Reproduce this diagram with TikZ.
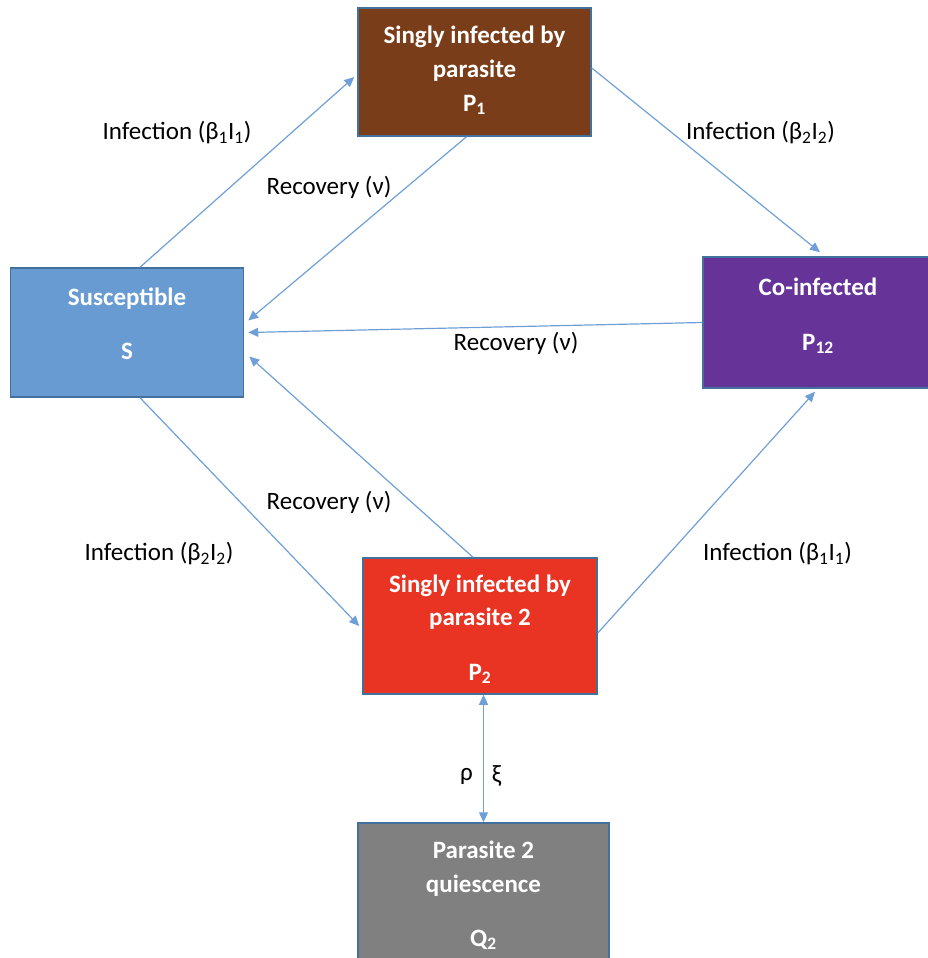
\documentclass[tikz,border=0pt]{standalone}
\usepackage{fontspec}
\setmainfont{Carlito}
\usetikzlibrary{arrows.meta}

\definecolor{sblue}{RGB}{104,155,210}
\definecolor{pbrown}{RGB}{122,61,26}
\definecolor{ppurple}{RGB}{102,51,153}
\definecolor{pred}{RGB}{233,52,36}
\definecolor{qgray}{RGB}{128,128,128}
\definecolor{edgeblue}{RGB}{65,113,156}
\definecolor{arrowblue}{RGB}{110,160,215}

\begin{document}
\begin{tikzpicture}[x=1pt, y=-1pt, node distance=270pt,
		box/.style={draw=edgeblue, line width=1.5pt, text=white, align=center,
			font=\fontsize{25}{33}\selectfont\bfseries, inner sep=0pt, minimum width=233pt},
		lbl/.style={font=\fontsize{25}{30}\selectfont},
		flow/.style={color=arrowblue, line width=1.2pt, -{Triangle[length=10pt, width=9pt]}}]
			\useasboundingbox (0,0) rectangle (928,958);

			\node[box, fill=sblue, text height=91pt, text depth=38pt] (s) at (127,332.5)
				{Susceptible\\[21pt]S};
			\node[box, fill=pbrown, text height=103pt, text depth=25pt] (p1)
				[right of=s, xshift=77.5pt, yshift=260.5pt]
				{Singly infected by\\[1pt]parasite\\[1pt]P\textsubscript{1}};
			\node[box, fill=ppurple, text height=93pt, text depth=38pt, minimum width=230pt] (p12)
				[right of=p1, xshift=73.5pt, yshift=-250.5pt]
				{Co-infected\\[22pt]P\textsubscript{12}};
			\node[box, fill=pred, text height=122pt, text depth=14pt, minimum width=234pt] (p2)
				[below of=p1, xshift=5.5pt, yshift=-284pt]
				{Singly infected by\\[0pt]parasite 2\\[22pt]P\textsubscript{2}};
			\node[box, fill=qgray, text height=123pt, text depth=18pt, minimum width=251pt] (q2)
				[below of=p2, xshift=3.5pt, yshift=2.5pt]
				{Parasite 2\\[1pt]quiescence\\[21pt]Q\textsubscript{2}};

			\node[lbl] (infa) at (177,133) {Infection (β\textsubscript{1}I\textsubscript{1})};
			\node[lbl] (reca) at (329,187) {Recovery (ν)};
			\node[lbl] (infb) at (760.5,133) {Infection (β\textsubscript{2}I\textsubscript{2})};
			\node[lbl] (recb) at (516,343) {Recovery (ν)};
			\node[lbl] (recc) at (329,502) {Recovery (ν)};
			\node[lbl] (infc) at (159,554) {Infection (β\textsubscript{2}I\textsubscript{2})};
			\node[lbl] (infd) at (777.5,554) {Infection (β\textsubscript{1}I\textsubscript{1})};
			\node[lbl] (rho) at (466.5,776) {ρ};
			\node[lbl] (xi) at (496.5,776) {ξ};

			\path[flow]
			([xshift=13pt]s.north) edge ([xshift=-3pt, yshift=-5pt]p1.west)
			([xshift=-8pt]p1.south) edge ([xshift=4pt, yshift=12pt]s.east)
			([yshift=4pt]p1.east) edge ([xshift=2pt, yshift=4pt]p12.north)
			(p12.west) edge ([xshift=4pt]s.east)
			([xshift=13pt]s.south) edge ([xshift=-3pt]p2.west)
			([xshift=-7pt]p2.north) edge ([xshift=5pt, yshift=-24pt]s.east)
			([yshift=-7pt]p2.east) edge ([xshift=-3pt, yshift=-3pt]p12.south);
			\draw[flow, {Triangle[length=10pt, width=9pt]}-{Triangle[length=10pt, width=9pt]}]
			(p2.south -| q2.north) -- (q2.north);
		\end{tikzpicture}
\end{document}
